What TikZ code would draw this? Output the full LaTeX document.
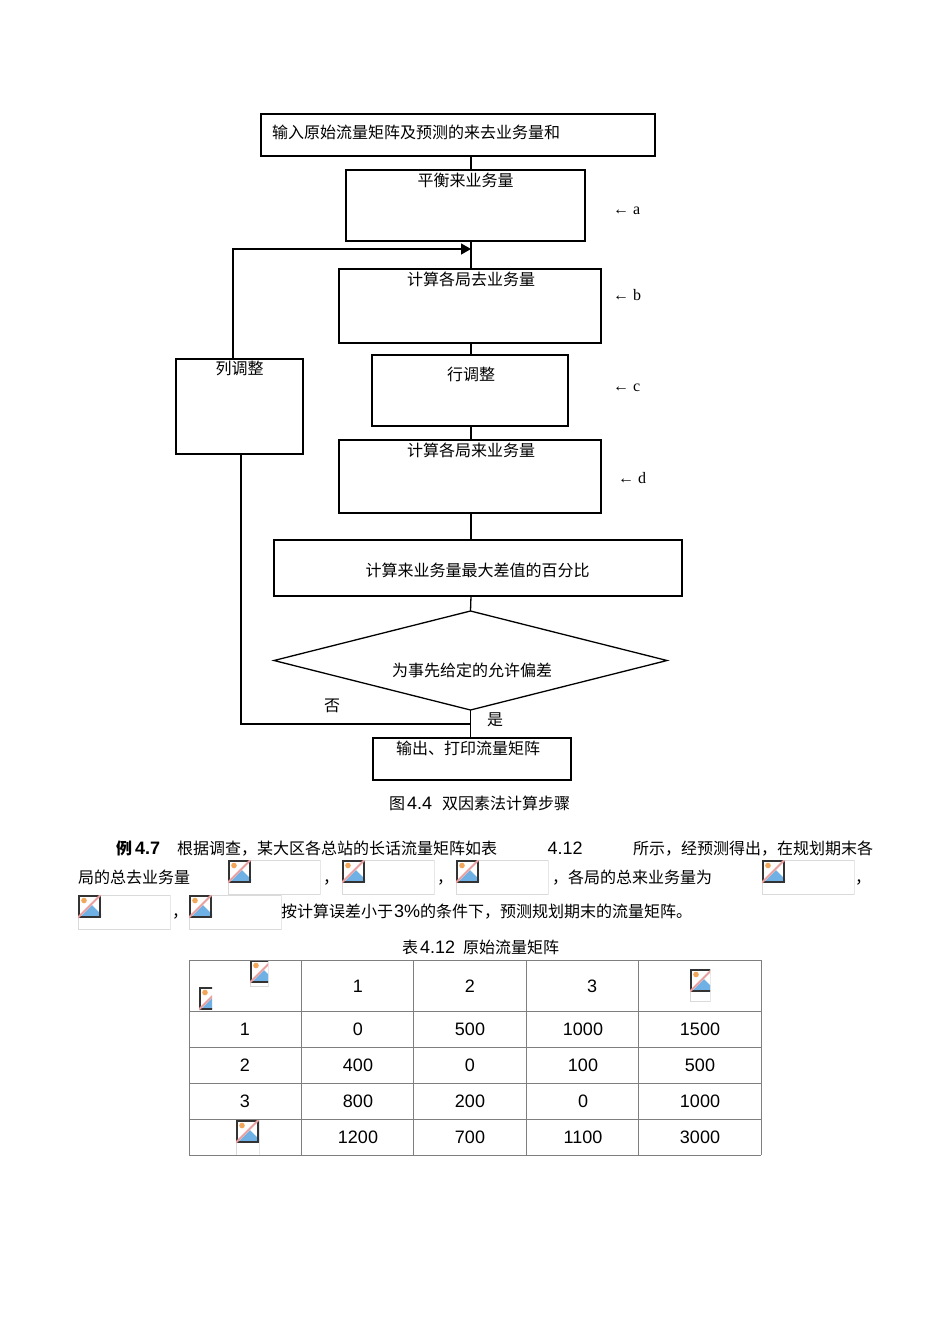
\documentclass[tikz,border=0pt]{standalone}
\usepackage{fontspec}
\setmainfont{Noto Sans CJK SC}
\newfontfamily\latinfont{Liberation Sans}
\newfontfamily\romanfont{Liberation Serif}
\usepackage{xcolor}
\usepackage{tikz}
\usetikzlibrary{positioning, arrows.meta, shapes.geometric}

\XeTeXlinebreaklocale "zh"
\XeTeXlinebreakskip=0pt plus 1pt

\definecolor{gridgray}{HTML}{7F7F7F}
\definecolor{holdergray}{HTML}{DADADA}
\definecolor{iconblue}{HTML}{6FB1E4}
\definecolor{iconsun}{HTML}{F2A65A}
\definecolor{iconslash}{HTML}{E8A0A0}

\newcommand{\lat}[1]{{\latinfont\fontsize{18pt}{20pt}\selectfont #1}}
\newcommand{\fitline}[2]{\hbox to #1pt{#2}}

\begin{document}
\begin{tikzpicture}[
    x=1pt, y=-1pt,
    box/.style={
        rectangle,
        draw,
        line width=1.3pt,
        inner sep=0pt,
        outer sep=0pt
    },
    txt/.style={
        inner sep=0pt,
        text height=13pt,
        text depth=3pt,
        font=\fontsize{16pt}{18pt}\selectfont
    },
    cell/.style={
        inner sep=0pt,
        font=\latinfont\fontsize{18pt}{20pt}\selectfont
    },
    conn/.style={
        line width=1.3pt
    },
    arrow/.style={
        line width=1.3pt,
        -{Triangle[length=10pt,width=11pt]}
    },
    holder/.style={
        draw=holdergray,
        line width=0.9pt
    },
    pics/brokenimg/.style n args={4}{code={
        % w, h of the frame, w of the icon, border or not
        \begin{scope}
        \clip (-0.6,-0.6) rectangle (#1+0.6,#2+0.6);
        \ifnum#4=1 \draw[holder] (0,0) rectangle (#1,#2); \fi
        \begin{scope}
        \clip (0,0) rectangle (#3,23);
        \fill[white] (0,0) rectangle (23,23);
        \fill[iconblue] (2,22) -- (14,10) -- (23,19) -- (23,22) -- cycle;
        \fill[iconsun] (6,5.5) circle (2.8);
        \draw[black!80, line width=1.6pt] (0.8,23) -- (0.8,0.8) -- (22,0.8) -- (22,22.2) -- (0.8,22.2);
        \draw[iconslash, line width=2pt] (0,22.5) -- (23,-0.5);
        \end{scope}
        \end{scope}
    }}
]

\useasboundingbox (0,0) rectangle (950,1342);
\coordinate (spine) at (471,0);

% Main flow

\node[box, minimum width=394pt, minimum height=42pt] (input) at (458,135) {};

\node[box, minimum width=239pt, minimum height=71pt, below=14pt of input, xshift=7.5pt] (balance) {};

\node[box, minimum width=262pt, minimum height=74pt, below=28pt of balance, xshift=4.5pt] (goout) {};

\node[box, minimum width=196pt, minimum height=71pt, below=12pt of goout] (rowadj) {};

\node[box, minimum width=262pt, minimum height=73pt, below=14pt of rowadj] (comein) {};

\node[box, minimum width=408pt, minimum height=56pt, below=27pt of comein, xshift=8pt] (percent) {};

\node[box, diamond, aspect=3.97, minimum width=393pt, minimum height=99pt, below=15pt of percent, xshift=-7.5pt] (judge) {};

\node[box, minimum width=198pt, minimum height=42pt, below=28pt of judge, xshift=1.5pt] (output) {};

\node[box, minimum width=127pt, minimum height=95pt] (coladj) at (239.5,406.5) {};


% Box texts

\node[txt, anchor=west] (inputtxt) at (272,133) {输入原始流量矩阵及预测的来去业务量和};
\node[txt, below=3pt of balance.north] (balancetxt) {平衡来业务量};
\node[txt, below=3pt of goout.north, xshift=1pt] (goouttxt) {计算各局去业务量};
\node[txt, below=12pt of rowadj.north, xshift=1pt] (rowadjtxt) {行调整};
\node[txt, below=3pt of comein.north, xshift=1pt] (comeintxt) {计算各局来业务量};
\node[txt, below=23pt of percent.north, xshift=-0.5pt] (percenttxt) {计算来业务量最大差值的百分比};
\node[txt] (judgetxt) at (472,671) {为事先给定的允许偏差};
\node[txt, below=3pt of output.north, xshift=-4pt] (outputtxt) {输出、打印流量矩阵};
\node[txt, below=2pt of coladj.north] (coladjtxt) {列调整};


% Side marks

\foreach \mark/\xpos/\ypos in {a/613/209, b/613/295, c/613/386, d/618/478}{
    \node[txt, anchor=west, font=\romanfont\fontsize{16pt}{18pt}\selectfont] (mark\mark) at (\xpos,\ypos) {←\hspace{4pt}\mark};
}


% Arrows

\coordinate (turnup) at (233,249);
\coordinate (merge) at (471,249);
\coordinate (backtee) at (471,724);
\coordinate (backturn) at (241,724);

\draw[conn] (input.south -| spine)--(balance.north -| spine);
\draw[conn] (balance.south -| spine)--(goout.north -| spine);
\draw[conn] (goout.south -| spine)--(rowadj.north -| spine);
\draw[conn] (rowadj.south -| spine)--(comein.north -| spine);
\draw[conn] (comein.south -| spine)--(percent.north -| spine);
\draw[conn] (percent.south -| spine)--(judge.north);
\draw[conn] (judge.south)--(output.north -| judge.south);

\draw[arrow] (coladj.north -| turnup)--(turnup)--(merge);
\draw[conn] (backtee)--(backturn)--(coladj.south -| backturn);

\node[txt] (notxt) at (332,706) {否};
\node[txt] (yestxt) at (495,720) {是};


% Captions

\node[txt, anchor=west] (figcap) at (389,804) {图\hspace{2pt}\lat{4.4}\hspace{10pt}双因素法计算步骤};
\node[txt, anchor=west] (tabcap) at (402,948) {表\hspace{2pt}\lat{4.12}\hspace{8pt}原始流量矩阵};


% Paragraph

\node[txt, anchor=west] (exlabel) at (116,849) {\bfseries 例\hspace{3pt}{\latinfont\fontsize{18pt}{20pt}\selectfont\bfseries 4.7}};
\node[txt, anchor=west] (line1) at (177,849) {\fitline{696}{根据调查，某大区各总站的长话流量矩阵如表\hspace{3pt plus 1pt}\lat{4.12}\hspace{3pt plus 1pt}所示，经预测得出，在规划期末各}};
\node[txt, anchor=west] (line2a) at (78,878) {\fitline{148}{局的总去业务量}};
\node[txt, anchor=west] (line2b) at (552,878) {\fitline{208}{，各局的总来业务量为}};
\node[txt, anchor=west] (line3) at (281,912) {\fitline{484}{按计算误差小于\hspace{1pt}\lat{3\%}的条件下，预测规划期末的流量矩阵。}};

\foreach \name/\xpos/\ypos in {c1/323/878, c2/437/878, c3/855/878, c4/172/912}{
    \node[txt, anchor=west] (\name) at (\xpos,\ypos) {，};
}

% Missing pictures

\foreach \xpos/\ypos in {228/860, 342/860, 456/860, 762/860, 78/895, 189/895}{
    \pic at (\xpos,\ypos) {brokenimg={92}{34}{23}{1}};
}
\pic at (250,960) {brokenimg={18}{26}{18}{1}};
\pic at (199,987) {brokenimg={13}{23}{13}{0}};
\pic at (690,969) {brokenimg={20}{32}{20}{1}};
\pic at (236,1120) {brokenimg={23}{35}{23}{1}};


% Table

\foreach \xpos in {189,301,413,526,638,761}{
    \draw[gridgray, line width=1pt] (\xpos,960)--(\xpos,1155);
}
\foreach \ypos in {960,1011,1047,1083,1119,1155}{
    \draw[gridgray, line width=1pt] (189,\ypos)--(761,\ypos);
}

\foreach \txt/\xpos in {1/358, 2/470, 3/592}{
    \node[cell] (head\txt) at (\xpos,986) {\txt};
}

\foreach \ypos/\rowname/\va/\vb/\vc/\vd in {
    1029/1/0/500/1000/1500,
    1065/2/400/0/100/500,
    1101/3/800/200/0/1000,
    1137//1200/700/1100/3000}{
    \node[cell] at (245,\ypos) {\rowname};
    \node[cell] at (358,\ypos) {\va};
    \node[cell] at (470,\ypos) {\vb};
    \node[cell] at (583,\ypos) {\vc};
    \node[cell] at (700,\ypos) {\vd};
}

\end{tikzpicture}
\end{document}
